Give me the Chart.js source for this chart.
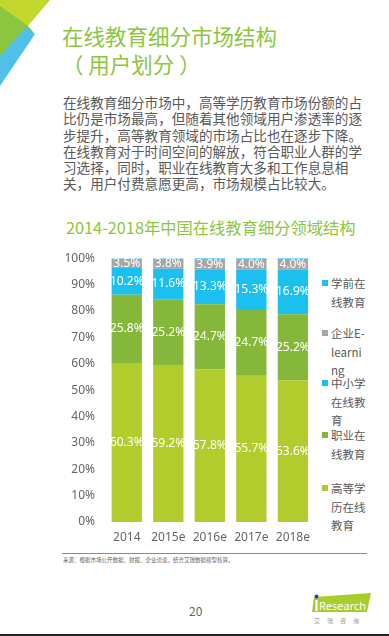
<!DOCTYPE html>
<html>
<head>
<meta charset="utf-8">
<script src="https://cdn.jsdelivr.net/npm/chart.js@4.4.0/dist/chart.umd.min.js"></script>
<style>
  body { margin: 0; background: #fff; font-family: "Noto Sans CJK SC", "Noto Sans", sans-serif; }
  .page { position: relative; width: 389px; height: 636px; overflow: hidden; background: #fff; }
  .title { position: absolute; left: 62px; top: 22px; color: #8dc63f; font-size: 21.5px; line-height: 28px; }
  .para { position: absolute; left: 63px; top: 94px; width: 310px; color: #595959; font-size: 13.6px; line-height: 16.3px; }
  .ctitle { position: absolute; left: 66px; top: 215px; color: #8dc63f; font-size: 16.3px; white-space: nowrap; }
  .chartbox { position: absolute; left: 60px; top: 240px; width: 258px; height: 310px; }
  .legend { position: absolute; left: 320px; top: 0; }
  .legend .item { position: absolute; left: 0; width: 50px; }
  .legend .sw { position: absolute; left: 2px; top: 6px; width: 6px; height: 6px; }
  .legend .tx { position: absolute; left: 11px; width: 35px; color: #595959; font-size: 11.5px; line-height: 18.5px; word-break: break-all; }
  .rule { position: absolute; left: 62px; top: 553px; width: 305px; height: 1px; background: #8a8a8a; }
  .source { position: absolute; left: 63px; top: 556px; font-size: 5.5px; color: #666; white-space: nowrap; }
  .pnum { position: absolute; left: 189px; top: 602px; font-size: 12px; color: #666; }
  .bottom { position: absolute; left: 0; top: 634px; width: 389px; height: 2px; background: #222; }
</style>
</head>
<body>
<div class="page">
  <svg width="60" height="95" style="position:absolute;left:0;top:0">
    <polygon points="0,0 50,0 28,26 0,14" fill="#c2d82e"/>
    <polygon points="0,6 28,26 34,33 0,58" fill="#8cc63f"/>
    <polygon points="26,27 35,34 0,86 0,56" fill="#4fc1e9"/>
  </svg>

  <div class="title">在线教育细分市场结构<br>（ 用户划分 ）</div>
  <div class="para">在线教育细分市场中，高等学历教育市场份额的占比仍是市场最高，但随着其他领域用户渗透率的逐步提升，高等教育领域的市场占比也在逐步下降。在线教育对于时间空间的解放，符合职业人群的学习选择，同时，职业在线教育大多和工作息息相关，用户付费意愿更高，市场规模占比较大。</div>
  <div class="ctitle">2014-2018年中国在线教育细分领域结构</div>

  <div class="chartbox"><canvas id="eduChart"></canvas></div>
  <div class="legend" id="legend"></div>

  <div class="rule"></div>
  <div class="source">来源：根据市场公开数据、财报、企业访谈，结合艾瑞数据模型核算。</div>
  <div class="pnum">20</div>

  <svg width="70" height="36" style="position:absolute;left:308px;top:592px">
    <polygon points="6,5 63,1 59,20 4,20" fill="#a9cd2c"/>
    <circle cx="8.5" cy="4.5" r="2" fill="#3a3ab0"/>
    <rect x="7.4" y="8" width="2.2" height="11" fill="#fff"/>
    <text x="11" y="18" font-family="Noto Sans" font-size="11" textLength="47" lengthAdjust="spacingAndGlyphs" fill="#fff">Research</text>
    <text x="6" y="31" font-family="Noto Sans CJK SC" font-size="6" fill="#999" letter-spacing="7">艾瑞咨询</text>
  </svg>
  <div class="bottom"></div>
</div>

<script>
// 数据
const years = ['2014', '2015e', '2016e', '2017e', '2018e'];
const gaodeng = [60.3, 59.2, 57.8, 55.7, 53.6];   // 高等学历在线教育
const zhiye = [25.8, 25.2, 24.7, 24.7, 25.2];     // 职业在线教育
const zhongxiaoxue = [10.2, 11.6, 13.3, 15.3, 16.9]; // 中小学在线教育
const qiye = [3.5, 3.8, 3.9, 4.0, 4.0];           // 企业E-learning
const xueqian = [0.2, 0.2, 0.3, 0.3, 0.3];        // 学前在线教育 (太小，没有标签)
const yTicks = [0, 10, 20, 30, 40, 50, 60, 70, 80, 90, 100];

const seriesNames = ['高等学历在线教育', '职业在线教育', '中小学在线教育', '企业E-learning', '学前在线教育'];
const seriesColors = ['#b2cc2e', '#85b83a', '#1cc0ee', '#a6a6a6', '#1cc0ee'];
const seriesData = [gaodeng, zhiye, zhongxiaoxue, qiye, xueqian];
const showLabel = [true, true, true, true, false];

// 标签插件 (段内居中白字)
const segLabels = {
    id: 'segLabels',
    afterDatasetsDraw(chart) {
        const ctx = chart.ctx;
        ctx.save();
        ctx.font = '12px "Noto Sans", sans-serif';
        ctx.fillStyle = '#ffffff';
        ctx.textAlign = 'center';
        ctx.textBaseline = 'middle';
        chart.data.datasets.forEach((ds, i) => {
            if (!showLabel[i]) return;
            chart.getDatasetMeta(i).data.forEach((bar, j) => {
                const y = (bar.y + bar.base) / 2;
                ctx.fillText(ds.data[j].toFixed(1) + '%', bar.x, y);
            });
        });
        ctx.restore();
    }
};

const ctx = document.getElementById('eduChart').getContext('2d');
new Chart(ctx, {
    type: 'bar',
    data: {
        labels: years,
        datasets: seriesData.map((d, i) => ({
            label: seriesNames[i],
            data: d,
            backgroundColor: seriesColors[i],
            borderWidth: 0,
            barPercentage: 0.73,
            categoryPercentage: 1
        }))
    },
    options: {
        responsive: true,
        maintainAspectRatio: false,
        animation: false,
        layout: { padding: { top: 11, right: 0, left: 0, bottom: 0 } },
        plugins: {
            legend: { display: false },
            tooltip: { enabled: false }
        },
        scales: {
            x: {
                stacked: true,
                grid: { display: false, drawTicks: false },
                border: { display: false },
                ticks: { color: '#666666', font: { family: "'Noto Sans', sans-serif", size: 12 }, padding: 8 },
                afterFit: (s) => { s.height = 28; }
            },
            y: {
                stacked: true,
                min: 0,
                max: 100,
                grid: { display: false, drawTicks: false },
                border: { display: false },
                afterBuildTicks: (s) => { s.ticks = yTicks.map(v => ({ value: v })); },
                ticks: {
                    color: '#666666',
                    font: { family: "'Noto Sans', sans-serif", size: 12 },
                    padding: 11,
                    callback: (v) => v + '%'
                },
                afterFit: (s) => { s.width = 46; }
            }
        }
    },
    plugins: [segLabels]
});

// 图例 (右侧，从上到下)
const legendOrder = [4, 3, 2, 1, 0];
const legendTops = [274, 324, 374, 426, 479];
const legendEl = document.getElementById('legend');
legendOrder.forEach((idx, k) => {
    const item = document.createElement('div');
    item.className = 'item';
    item.style.top = legendTops[k] + 'px';
    item.innerHTML = '<div class="sw" style="background:' + seriesColors[idx] + '"></div>' +
        '<div class="tx">' + seriesNames[idx] + '</div>';
    legendEl.appendChild(item);
});
</script>
</body>
</html>
